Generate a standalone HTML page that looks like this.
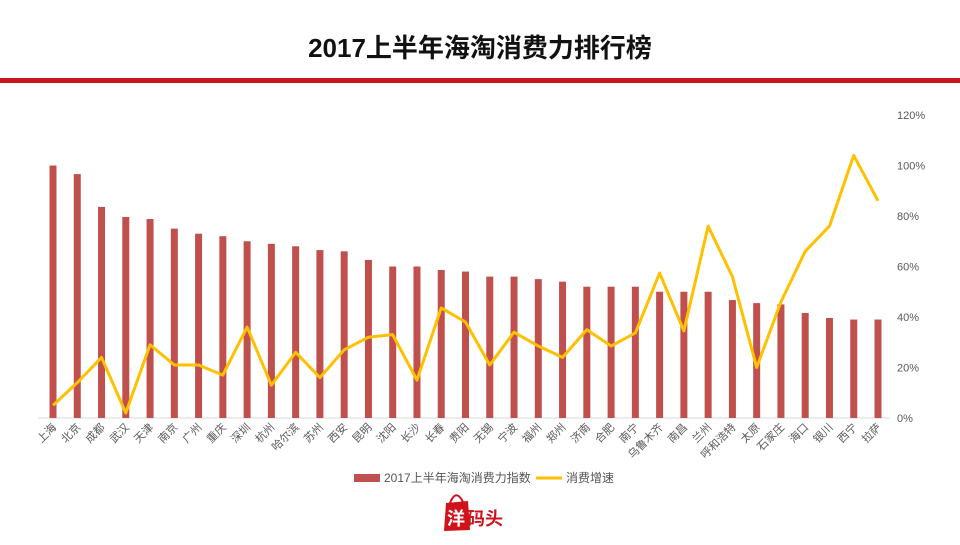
<!DOCTYPE html>
<html><head><meta charset="utf-8">
<style>
body{margin:0;width:960px;height:540px;background:#fff;overflow:hidden;font-family:"Liberation Sans","Noto Sans CJK SC",sans-serif;}
svg text{font-family:"Liberation Sans","Noto Sans CJK SC",sans-serif;}
</style></head>
<body>
<svg id="c" width="960" height="540" xmlns="http://www.w3.org/2000/svg">
<text x="480" y="57" text-anchor="middle" font-size="26" font-weight="bold" fill="#111">2017上半年海淘消费力排行榜</text>
<rect x="0" y="78" width="960" height="5" fill="#c8161d"/>
<g id="grid"></g><g id="bars"></g><g id="line"></g><g id="xl"></g><g id="yl"></g>
<g>
<rect x="354" y="474" width="26" height="8" fill="#c0504d"/>
<text x="384" y="482" font-size="12" fill="#555">2017上半年海淘消费力指数</text>
<line x1="536" y1="478" x2="562" y2="478" stroke="#ffc000" stroke-width="3"/>
<text x="566" y="482" font-size="12" fill="#555">消费增速</text>
</g>
<g>
<path d="M446 503 L468 501 L470 530 L444 531 Z" fill="#d0121b"/>
<path d="M450 503 Q456 488 463 502" stroke="#d0121b" stroke-width="2" fill="none"/>
<text x="447" y="525" font-size="18" font-weight="bold" fill="#fff">洋</text>
<text x="467" y="525" font-size="18" font-weight="bold" fill="#d0121b">码头</text>
</g>
</svg>
<script>
const cities=["上海","北京","成都","武汉","天津","南京","广州","重庆","深圳","杭州","哈尔滨","苏州","西安","昆明","沈阳","长沙","长春","贵阳","无锡","宁波","福州","郑州","济南","合肥","南宁","乌鲁木齐","南昌","兰州","呼和浩特","太原","石家庄","海口","银川","西宁","拉萨"];
const indexValues=[100,96.6,83.6,79.6,78.8,75,73,72,70,69,68,66.5,66,62.6,60,60,58.6,58,56,56,55,54,52,52,52,50,50,50,46.7,45.5,45,41.6,39.6,39,39];
const growthValues=[5,14,24,2,29,21,21,17,36,13,26,16,27,32,33,15,43.6,38,21,34,28.5,24,35,28.5,33.7,57.4,34.5,76,56,20,46,66,76,104,86];
const yTicks=[0,20,40,60,80,100,120];
const NS="http://www.w3.org/2000/svg";
const x0=53,x1=878,yb=418,yt=115,ymax=120;
const xs=i=>x0+i*(x1-x0)/(cities.length-1);
const ys=v=>yb-(v/ymax)*(yb-yt);
function mk(t,a,p){const e=document.createElementNS(NS,t);for(const k in a)e.setAttribute(k,a[k]);p.appendChild(e);return e;}
const grid=document.getElementById('grid');
const ax=mk('line',{x1:38,x2:890,y1:yb,y2:yb,stroke:'#d9d9d9','stroke-width':1},grid);


const yl=document.getElementById('yl');
yTicks.forEach(v=>{const t=mk('text',{x:897,y:ys(v)+4,'font-size':11,fill:'#595959'},yl);t.textContent=v+'%';

});
const bars=document.getElementById('bars'),xl=document.getElementById('xl');
cities.forEach((c,i)=>{const r=mk('rect',{x:xs(i)-3.5,y:ys(indexValues[i]),width:7,height:yb-ys(indexValues[i]),fill:'#c0504d'},bars);


const t=mk('text',{x:xs(i)+4,y:428,'font-size':11,fill:'#595959','text-anchor':'end',transform:`rotate(-45 ${xs(i)+4} 428)`},xl);t.textContent=c;

});
const pts=growthValues.map((v,i)=>xs(i)+','+ys(v)).join(' ');
const pl=mk('polyline',{points:pts,fill:'none',stroke:'#ffc000','stroke-width':3,'stroke-linejoin':'round'},document.getElementById('line'));


</script>
</body></html>
